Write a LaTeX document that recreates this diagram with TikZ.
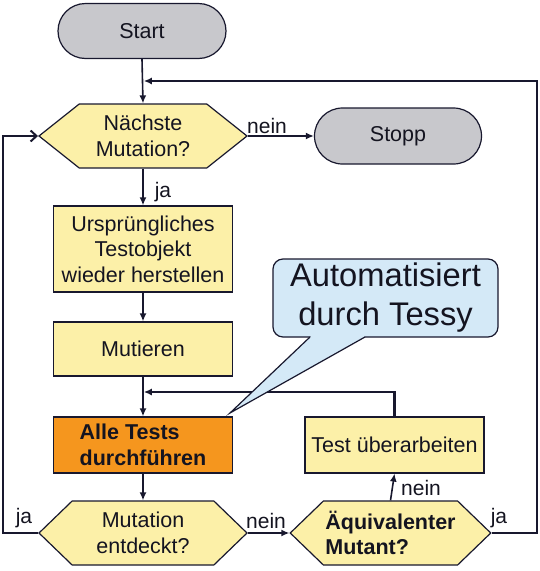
\documentclass[tikz,border=0pt]{standalone}
\usepackage{fontspec}
\setmainfont{Liberation Sans}
\usetikzlibrary{shapes.misc,shapes.symbols,arrows.meta,calc}
\definecolor{ybox}{HTML}{FCF0A8}
\definecolor{grayC}{HTML}{C8C8CC}
\definecolor{orangeC}{HTML}{F5961E}
\definecolor{blueC}{HTML}{D4E9F7}
\definecolor{lineC}{HTML}{18182E}
\definecolor{textC}{HTML}{141420}
\begin{document}
\begin{tikzpicture}[x=1pt,y=-1pt,
  base/.style={draw=lineC, line width=1.2pt, inner sep=2pt, text=textC,
    font=\fontsize{21.5}{25.5}\selectfont, align=center},
  term/.style={base, rounded rectangle, fill=grayC, minimum width=172pt, minimum height=55pt},
  proc/.style={base, rectangle, fill=ybox, minimum width=179pt},
  dec/.style={base, signal, signal to=east and west, fill=ybox, minimum height=64pt},
  conn/.style={line width=1.6pt, draw=lineC, -{Latex[length=8pt,width=7pt]}},
  loopc/.style={conn, line width=2.3pt},
  lab/.style={font=\fontsize{21}{25}\selectfont, text=textC, inner sep=0pt, anchor=base}
]
\useasboundingbox (0,0) rectangle (540,571);

% nodes
\node[term] (start) at (142,31) {Start};
\node[dec, minimum width=208pt, signal pointer angle=77] (d1) at (143,136) {Nächste\\Mutation?};
\node[term, minimum width=171pt, minimum height=56pt] (stop) at (398,136) {Stopp};
\node[proc, minimum height=86pt] (b1) at (143,249) {Ursprüngliches\\Testobjekt\\wieder herstellen};
\node[proc, minimum height=54pt] (b2) at (143,349) {Mutieren};
\node[proc, minimum height=56pt, fill=orangeC, align=left, font=\fontsize{21.5}{25.5}\selectfont\bfseries] (b3) at (143,445) {Alle Tests\\durchführen};
\node[proc, minimum height=56pt] (b4) at (394.5,445) {Test überarbeiten};
\node[dec, minimum width=208pt, signal pointer angle=88] (d2) at (143,533) {Mutation\\entdeckt?};
\node[dec, minimum width=187pt, signal pointer angle=88, align=left, font=\fontsize{21.5}{25.5}\selectfont\bfseries] (d3) at (390.5,533) {Äquivalenter\\Mutant?};

% helper coordinates
\coordinate (jt) at (143.8,81);
\coordinate (rt) at (537,533);
\coordinate (lt) at (3,533);
\coordinate (mj) at (143.8,392);
\coordinate (tip) at (230,413);

% connectors
\draw[conn] (start.south) -- (d1.north);
\draw[conn] (d1.east) -- (stop.west);
\draw[conn] (d1.south) -- (b1.north);
\draw[conn] (b1.south) -- (b2.north);
\draw[conn] (b2.south) -- (b3.north);
\draw[conn] (b3.south) -- (d2.north);
\draw[conn] (d2.east) -- (d3.west);
\draw[conn] (d3.north) -- (b4.south);
\draw[loopc] (b4.north) |- (mj);
\draw[loopc] (d3.east) -- (rt) |- (jt);
\draw[loopc, -{Straight Barb[length=6pt,width=11pt,line width=2pt]}] (d2.west) -- (lt) |- (d1.west);

% labels
\node[lab] (l1) at (267,133) {nein};
\node[lab] (l2) at (163,197) {ja};
\node[lab] (l3) at (266,528) {nein};
\node[lab] (l4) at (421,495) {nein};
\node[lab] (l5) at (24,523) {ja};
\node[lab] (l6) at (499,523) {ja};

% callout
\node[draw=lineC, line width=1.2pt, fill=blueC, rounded corners=10pt, text=textC,
  minimum width=225pt, minimum height=78pt, align=center,
  font=\fontsize{32.7}{39}\selectfont] (cl) at (385.5,298) {Automatisiert\\durch Tessy};
\fill[blueC] (310.5,337) -- (tip) -- (364.5,337) -- (364.5,335) -- (310.5,335) -- cycle;
\draw[draw=lineC, line width=1.2pt, line join=miter] (310,337) -- (tip) -- (365,337);
\end{tikzpicture}
\end{document}
